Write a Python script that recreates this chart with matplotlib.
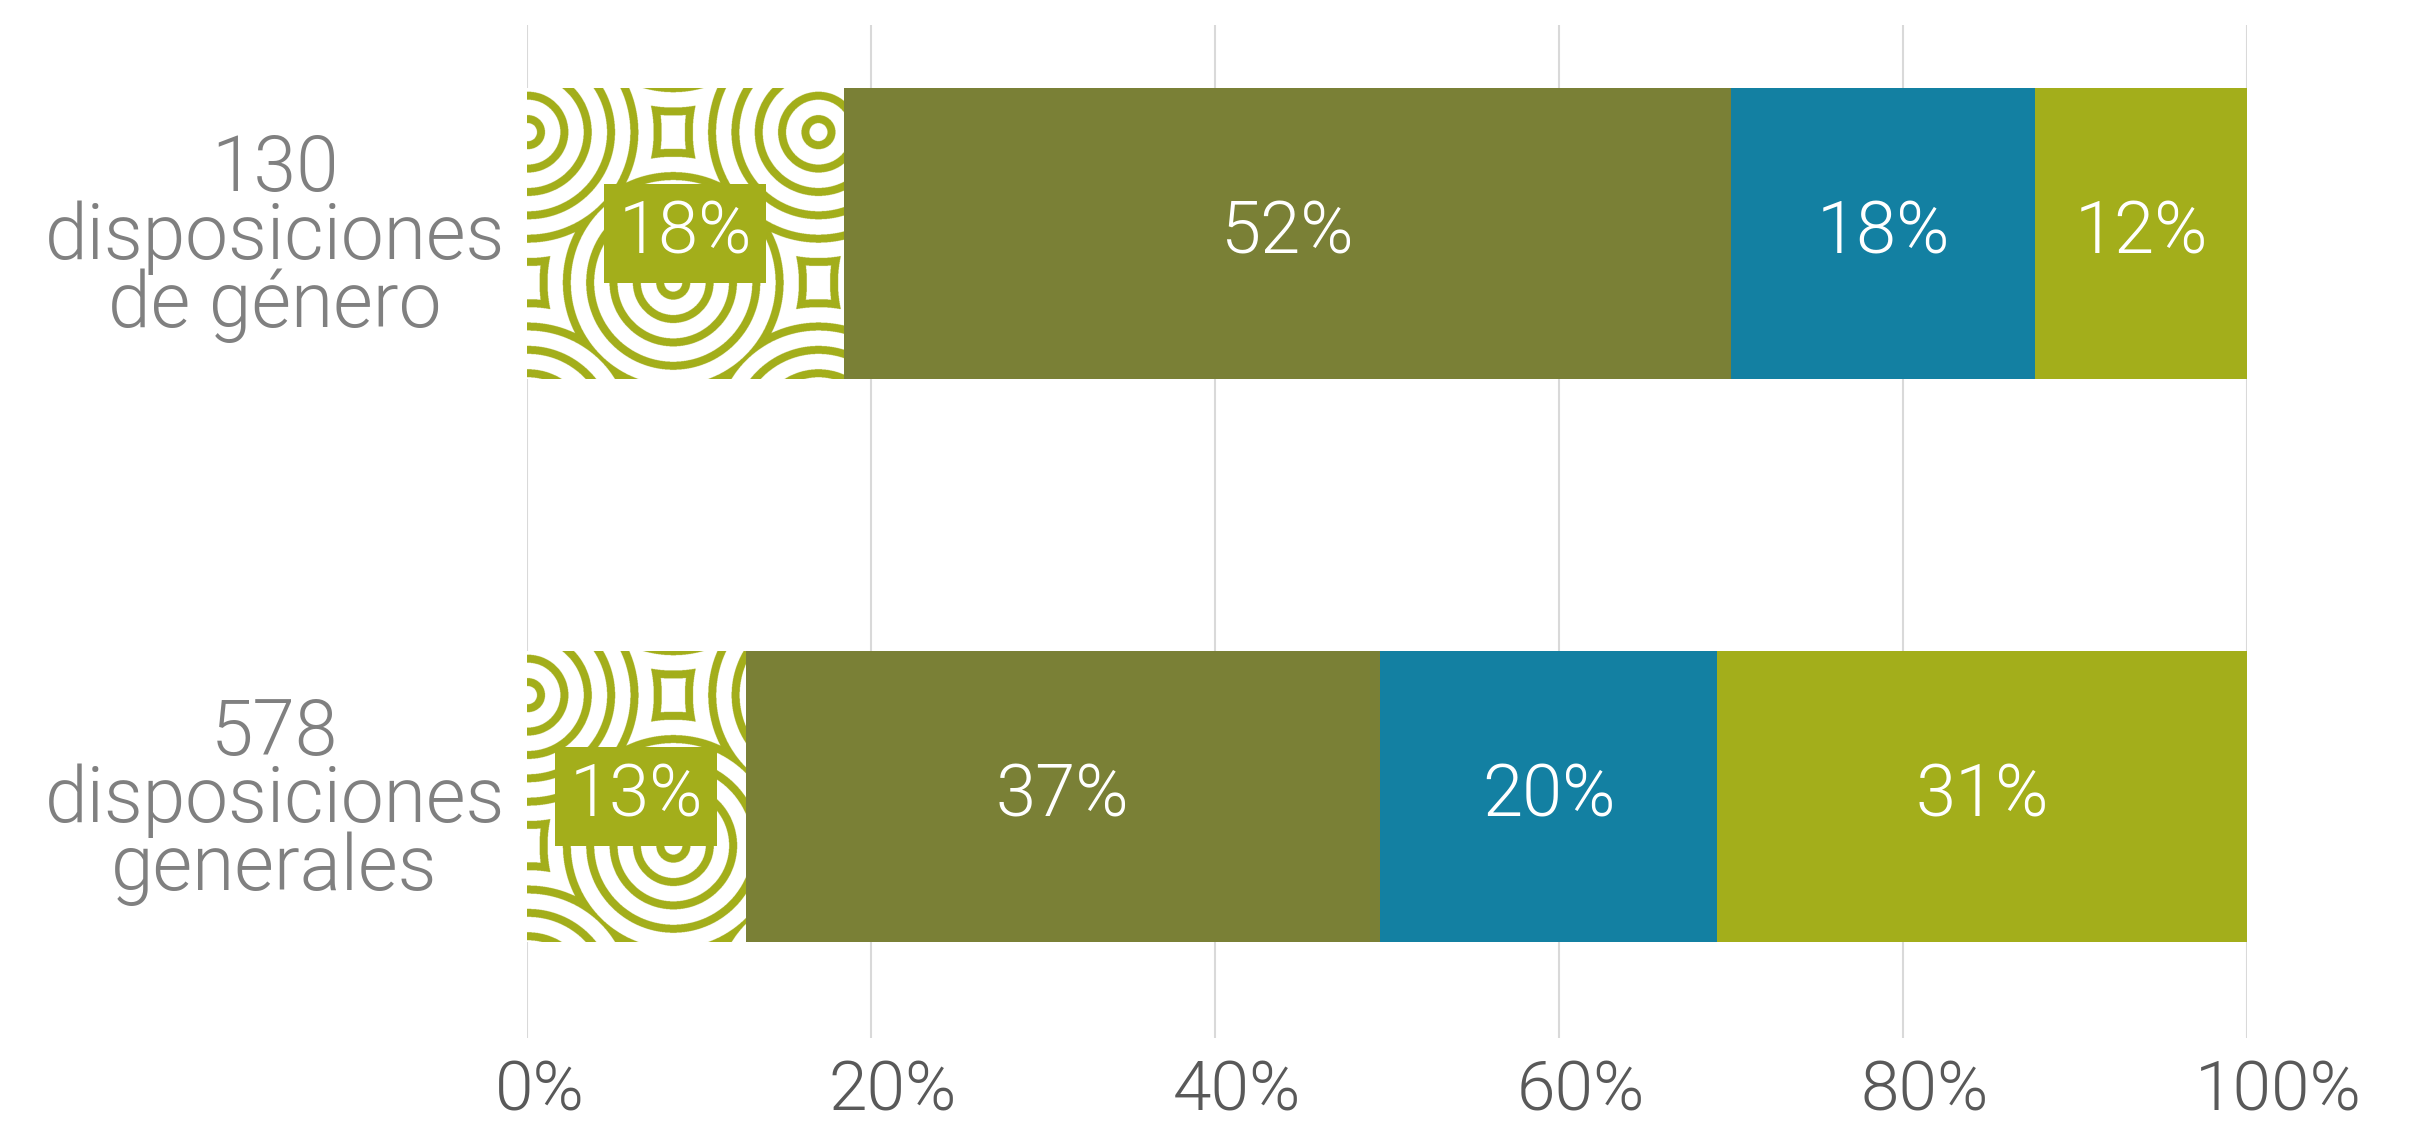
import numpy as np
import matplotlib.pyplot as plt
import matplotlib.transforms as mtransforms
from matplotlib.ticker import FuncFormatter

# datos (porcentajes)
categorias = ["578\ndisposiciones\ngenerales", "130\ndisposiciones\nde género"]
serie_patron = [12.7, 18.4]
serie_oliva = [36.9, 51.6]
serie_azul = [19.6, 17.7]
serie_verde = [30.8, 12.3]
etiquetas = [["13%", "37%", "20%", "31%"], ["18%", "52%", "18%", "12%"]]
ticks_x = [0, 20, 40, 60, 80, 100]

VERDE = "#A3AE1B"
OLIVA = "#7A8036"
AZUL = "#1380A2"
GRIS_TXT = "#808080"
GRIS_TICK = "#595959"
PESO = 300  # Roboto Light

plt.rcParams["font.family"] = ["Roboto", "DejaVu Sans"]

W, H, DPI = 2418, 1126, 200
AX_L, AX_R, AX_T, AX_B = 527, 2247, 25, 1038
fig = plt.figure(figsize=(W / DPI, H / DPI), dpi=DPI)
ax = fig.add_axes([AX_L / W, (H - AX_B) / H, (AX_R - AX_L) / W, (AX_B - AX_T) / H])

y = np.arange(len(categorias))
alto = 0.517
ax.set_xlim(0, 100)
ax.set_ylim(-0.429, 1.370)

series = [serie_patron, serie_oliva, serie_azul, serie_verde]
colores = ["white", OLIVA, AZUL, VERDE]
left = np.zeros(len(categorias))
barras = []
for vals, col in zip(series, colores):
    vals = np.array(vals)
    b = ax.barh(y, vals, left=left, height=alto, color=col, linewidth=0, zorder=2)
    barras.append((b, left.copy(), vals))
    left = left + vals

# patrón de anillos en el primer segmento (campo de distancia al centro más cercano)
px_x = (AX_R - AX_L) / 100.0
px_y = (AX_B - AX_T) / (1.370 + 0.429)
b0, l0, v0 = barras[0]
rgb = np.array([0xA3, 0xAE, 0x1B]) / 255.0
for i, rect in enumerate(b0):
    wpx = int(round(v0[i] * px_x)) + 2
    hpx = int(round(alto * px_y)) + 2
    ss = 3
    u = (np.arange(wpx * ss) + 0.5) / ss
    w = (np.arange(hpx * ss) + 0.5) / ss
    U, Wm = np.meshgrid(u, w)
    dmin = np.full(U.shape, 1e9)
    for k in range(-2, 6):
        for m in range(-2, 5):
            if (k + m) % 2:
                continue
            cx = 1 + 145 * k
            cy = 45 + 150 * m
            dmin = np.minimum(dmin, np.hypot(U - cx, Wm - cy))
    fase = np.mod(dmin, 23.3)
    banda = (fase >= 9) & (fase <= 17)
    img = np.ones(U.shape + (3,))
    img[banda] = rgb
    y0 = y[i] - alto / 2
    im = ax.imshow(img, extent=(0, wpx / px_x, y0 + alto - hpx / px_y, y0 + alto),
                   origin="upper", aspect="auto", interpolation="antialiased", zorder=3)
    im.set_clip_path(rect)

# etiquetas dentro de las barras
for i in range(len(categorias)):
    for j, (b, l, v) in enumerate(barras):
        cx = l[i] + v[i] / 2
        kw = {}
        if j == 0:
            kw["bbox"] = dict(facecolor=VERDE, edgecolor="none", pad=5.2)
        ax.text(cx, y[i], etiquetas[i][j], ha="center", va="center", color="white",
                fontsize=26, fontweight=PESO, zorder=5, **kw)

# ejes y cuadrícula (tick_params antes de tocar las etiquetas)
ax.tick_params(axis="both", length=0)
ax.tick_params(axis="x", pad=7.5)
ax.tick_params(axis="y", pad=8)
ax.grid(axis="x", color="#D9D9D9", linewidth=0.75)
ax.set_axisbelow(True)
for s in ax.spines.values():
    s.set_visible(False)

ax.set_yticks(y)
ax.set_yticklabels(categorias, fontsize=27.6, fontweight=PESO, color=GRIS_TXT,
                   linespacing=0.885, multialignment="center")
ax.set_xticks(ticks_x)
ax.xaxis.set_major_formatter(FuncFormatter(lambda v, p: f"{v:.0f}%"))
# las etiquetas del eje x aparecen algo corridas a la derecha en el original
corrimiento_px = [13, 22, 22, 22, 22, 31]
for t, dx in zip(ax.xaxis.get_major_ticks(), corrimiento_px):
    lab = t.label1
    lab.set_fontsize(25)
    lab.set_fontweight(PESO)
    lab.set_color(GRIS_TICK)
    lab.set_transform(lab.get_transform() + mtransforms.ScaledTranslation(dx / DPI, 0, fig.dpi_scale_trans))

fig.savefig("out.png", dpi=DPI)
